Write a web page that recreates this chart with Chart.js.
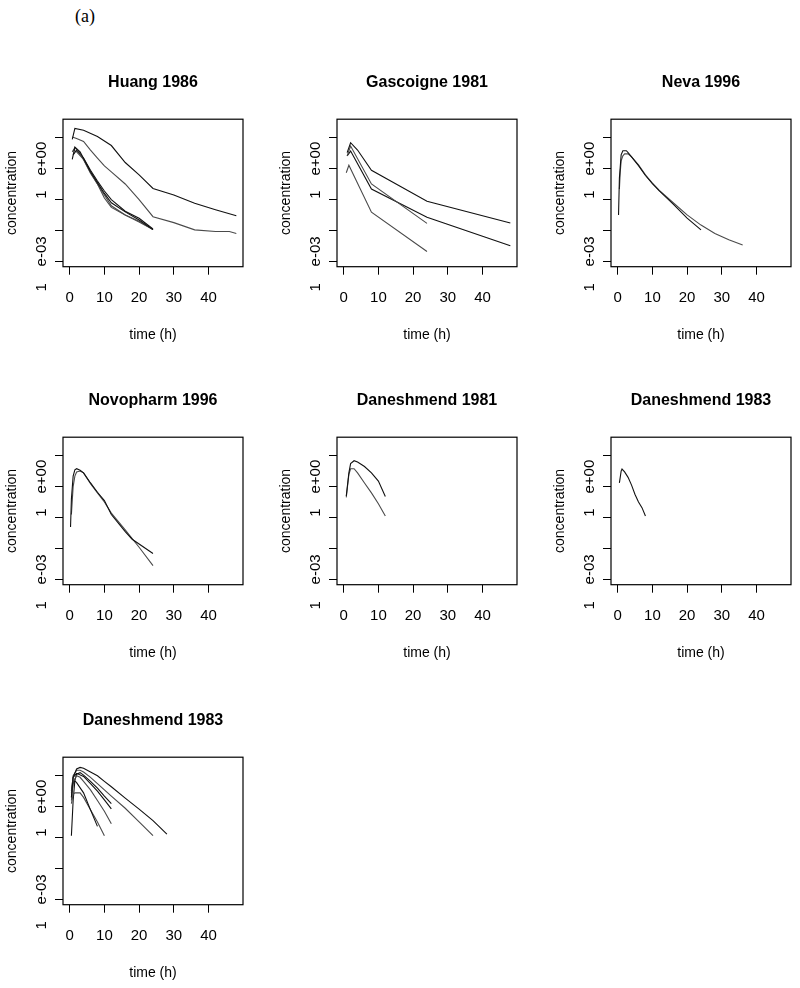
<!DOCTYPE html>
<html>
<head>
<meta charset="utf-8">
<title>concentration vs time</title>
<script src="https://cdn.jsdelivr.net/npm/chart.js@4.4.1/dist/chart.umd.min.js"></script>
<style>
body { margin: 0; width: 800px; height: 988px; background: #fff; position: relative; overflow: hidden; }
canvas { position: absolute; }
#label { position: absolute; left: 75px; top: 6px; font-family: "Liberation Serif", serif; font-size: 18px; color: #000; }
</style>
</head>
<body>
<div id="label">(a)</div>
<script>
// panel titles, axis ticks
var panelTitles = ['Huang 1986', 'Gascoigne 1981', 'Neva 1996', 'Novopharm 1996', 'Daneshmend 1981', 'Daneshmend 1983', 'Daneshmend 1983'];
var xTicks = [0, 10, 20, 30, 40];
var yTicks = [10, 1, 0.1, 0.01, 0.001];
// the y labels come out broken in the original: pieces of "1e+00" and "1e-03"
var yLabelText = ['e+00', '1', 'e-03', '1'];
var yLabelValue = [1, 1, 0.001, 0.001];

// time (h) and concentration, one inner array per subject
var huangT = [
    [0.75, 1.5, 4, 8, 12, 16, 20, 24, 30, 36, 42, 48],
    [0.75, 2, 4, 6, 8, 10, 12, 16, 20, 24, 30, 36, 42, 46, 48],
    [0.75, 1.5, 3, 6, 8, 10, 12, 16, 20, 24],
    [0.75, 1.5, 3, 6, 8, 10, 12, 16, 20, 24],
    [1, 2, 4, 6, 8, 10, 12, 16, 20, 24],
    [1, 2, 4, 6, 8, 10, 12, 16, 20, 24]
];
var huangC = [
    [8.9, 20, 17.4, 11, 5.6, 1.58, 0.63, 0.23, 0.14, 0.076, 0.047, 0.030],
    [10.5, 9.5, 7.6, 4.0, 2.2, 1.23, 0.79, 0.32, 0.1, 0.028, 0.018, 0.0105, 0.0093, 0.0093, 0.008],
    [2.0, 5.0, 3.5, 0.79, 0.355, 0.158, 0.079, 0.04, 0.022, 0.0107],
    [3.5, 4.8, 3.2, 0.71, 0.32, 0.14, 0.063, 0.032, 0.02, 0.0107],
    [2.8, 4.0, 2.2, 0.89, 0.40, 0.19, 0.1, 0.042, 0.025, 0.0112],
    [4.0, 3.5, 2.0, 0.76, 0.32, 0.112, 0.056, 0.032, 0.019, 0.0107]
];
var gascoigneT = [
    [1, 2, 4, 8, 24, 48],
    [1, 2, 8, 24],
    [1, 2, 8, 24, 48],
    [0.75, 1.5, 8, 24]
];
var gascoigneC = [
    [3.3, 6.9, 4.0, 0.89, 0.089, 0.0174],
    [2.6, 5.4, 0.32, 0.017],
    [2.6, 3.7, 0.22, 0.027, 0.0032],
    [0.74, 1.29, 0.039, 0.0021]
];
var nevaT = [
    [0.25, 0.5, 1, 1.5, 2.5, 3, 4, 6, 8, 10, 12, 16, 20, 24],
    [0.5, 0.75, 1, 1.5, 2, 3, 4, 6, 8, 10, 12, 16, 20, 24, 28, 32, 36]
];
var nevaC = [
    [0.032, 0.5, 2.8, 3.8, 3.8, 3.3, 2.4, 1.26, 0.60, 0.33, 0.19, 0.071, 0.025, 0.0105],
    [0.22, 0.79, 1.78, 2.6, 3.0, 3.0, 2.4, 1.32, 0.63, 0.34, 0.2, 0.079, 0.032, 0.015, 0.008, 0.005, 0.0034]
];
var novoT = [
    [0.25, 0.5, 1, 1.5, 2, 3, 4, 6, 8, 10, 12, 16, 18, 24],
    [0.5, 1, 1.5, 2, 3, 4, 6, 8, 10, 12, 16, 20, 24]
];
var novoC = [
    [0.05, 0.4, 2.2, 3.5, 3.8, 3.4, 2.8, 1.32, 0.66, 0.355, 0.126, 0.035, 0.02, 0.0069],
    [0.126, 1.0, 2.2, 3.0, 3.2, 2.8, 1.26, 0.63, 0.32, 0.14, 0.04, 0.011, 0.0028]
];
var dan81T = [
    [0.75, 1.5, 2, 3, 4, 6, 8, 10, 12],
    [0.75, 1.5, 2, 3, 4, 6, 8, 10, 12]
];
var dan81C = [
    [0.5, 2.8, 5.6, 6.9, 6.3, 4.5, 2.8, 1.51, 0.48],
    [0.45, 2.5, 3.8, 3.8, 2.8, 1.32, 0.63, 0.28, 0.112]
];
var dan83aT = [
    [0.5, 1, 1.25, 2, 3, 4, 5, 6, 7, 8]
];
var dan83aC = [
    [1.32, 3.2, 3.7, 3.0, 2.0, 1.12, 0.56, 0.32, 0.21, 0.112]
];
var dan83bT = [
    [0.5, 1, 2, 3, 4, 6, 8, 10, 12, 16, 20, 24, 28],
    [0.5, 1, 2, 3, 4, 6, 8, 10, 12, 16, 20, 24],
    [0.5, 1, 2, 4, 6, 8, 10, 12],
    [0.5, 1, 2, 3, 4, 6, 8, 10, 12],
    [0.5, 1, 1.5, 2, 4, 6, 8],
    [0.5, 1, 1.5, 3, 4, 6, 8, 10],
    [0.5, 1, 1.5, 2, 3, 4, 6, 8, 10, 12]
];
var dan83bC = [
    [2.0, 8.9, 16.6, 18.6, 17.4, 13.2, 10, 6.6, 4.4, 1.9, 0.83, 0.355, 0.13],
    [2.8, 10, 15.1, 15.1, 13.2, 8.9, 5.6, 3.5, 2.2, 0.89, 0.32, 0.115],
    [3.2, 8.9, 12, 9.5, 5.6, 3.2, 1.66, 0.85],
    [1.58, 6.3, 10, 8.9, 6.6, 3.5, 1.58, 0.71, 0.28],
    [2.0, 5.6, 6.8, 6.0, 2.8, 0.79, 0.23],
    [1.26, 2.5, 2.8, 2.8, 2.0, 0.79, 0.32, 0.115],
    [0.115, 1.58, 7.1, 11.2, 12.6, 10.5, 6.6, 4.0, 2.2, 1.26]
];

var allT = [huangT, gascoigneT, nevaT, novoT, dan81T, dan83aT, dan83bT];
var allC = [huangC, gascoigneC, nevaC, novoC, dan81C, dan83aC, dan83bC];

var fam = '"Liberation Sans", Arial, sans-serif';
var colX = [1, 275, 549];
var rowY = [60, 378, 698];

Chart.defaults.color = '#000';

// frame round the plot and the rotated y labels
var frame = {
    id: 'frame',
    afterDraw: function (chart) {
        var ctx = chart.ctx;
        var a = chart.chartArea;
        var y = chart.scales.y;
        ctx.save();
        ctx.strokeStyle = '#000';
        ctx.lineWidth = 1.2;
        ctx.strokeRect(a.left, a.top, a.right - a.left, a.bottom - a.top);
        ctx.font = '15px ' + fam;
        ctx.fillStyle = '#000';
        ctx.textAlign = 'center';
        ctx.textBaseline = 'middle';
        for (var i = 0; i < yLabelText.length; i++) {
            var shift = yLabelText[i] == '1' ? 26 : -10;
            var py = y.getPixelForValue(yLabelValue[i]) + shift;
            ctx.save();
            ctx.translate(a.left - 21, py);
            ctx.rotate(-Math.PI / 2);
            ctx.fillText(yLabelText[i], 0, 0);
            ctx.restore();
        }
        ctx.restore();
    }
};

var makePanel = function (idx) {
    // canvas is symmetric round the plot box so the title centres over it
    var canvas = document.createElement('canvas');
    canvas.width = 304;
    canvas.height = 284;
    canvas.style.left = colX[idx % 3] + 'px';
    canvas.style.top = rowY[Math.floor(idx / 3)] + 'px';
    document.body.appendChild(canvas);

    var times = allT[idx];
    var conc = allC[idx];
    var datasets = [];
    for (var i = 0; i < times.length; i++) {
        var pts = [];
        for (var j = 0; j < times[i].length; j++) {
            pts.push({ x: times[i][j], y: conc[i][j] });
        }
        datasets.push({
            data: pts,
            borderColor: i % 2 ? '#4a4a4a' : '#111',
            borderWidth: 1.1,
            pointRadius: 0,
            tension: 0,
            fill: false
        });
    }

    new Chart(canvas, {
        type: 'line',
        data: { datasets: datasets },
        options: {
            responsive: false,
            animation: false,
            devicePixelRatio: 1,
            layout: { padding: 0 },
            plugins: {
                legend: { display: false },
                tooltip: { enabled: false },
                title: {
                    display: true,
                    text: panelTitles[idx],
                    color: '#000',
                    font: { family: fam, size: 16, weight: 'bold' },
                    padding: { top: 13.4, bottom: 26.6 }
                }
            },
            scales: {
                x: {
                    type: 'linear',
                    min: -1.92,
                    max: 49.92,
                    afterBuildTicks: function (s) { s.ticks = xTicks.map(function (v) { return { value: v }; }); },
                    afterFit: function (s) { s.height = 77.3; },
                    grid: { drawOnChartArea: false, drawTicks: true, tickLength: 8, color: '#000', lineWidth: 1 },
                    border: { display: false },
                    ticks: { color: '#000', font: { family: fam, size: 15 }, padding: 14, autoSkip: false, maxRotation: 0 },
                    title: { display: true, text: 'time (h)', color: '#000', font: { family: fam, size: 14 }, padding: { top: 0, bottom: 0 } }
                },
                y: {
                    type: 'logarithmic',
                    min: 0.000676,
                    max: 39.8,
                    afterBuildTicks: function (s) { s.ticks = yTicks.map(function (v) { return { value: v }; }); },
                    afterFit: function (s) { s.width = 62; },
                    grid: { drawOnChartArea: false, drawTicks: true, tickLength: 8, color: '#000', lineWidth: 1 },
                    border: { display: false },
                    ticks: { display: false },
                    title: { display: true, text: 'concentration', color: '#000', font: { family: fam, size: 14 }, padding: { top: 2.6, bottom: 0 } }
                },
                // empty scale on the right, only to keep the box centred
                yRight: {
                    type: 'linear',
                    position: 'right',
                    afterFit: function (s) { s.width = 62; },
                    grid: { display: false },
                    border: { display: false },
                    ticks: { display: false }
                }
            }
        },
        plugins: [frame]
    });
};

for (var k = 0; k < panelTitles.length; k++) {
    makePanel(k);
}
</script>
</body>
</html>
